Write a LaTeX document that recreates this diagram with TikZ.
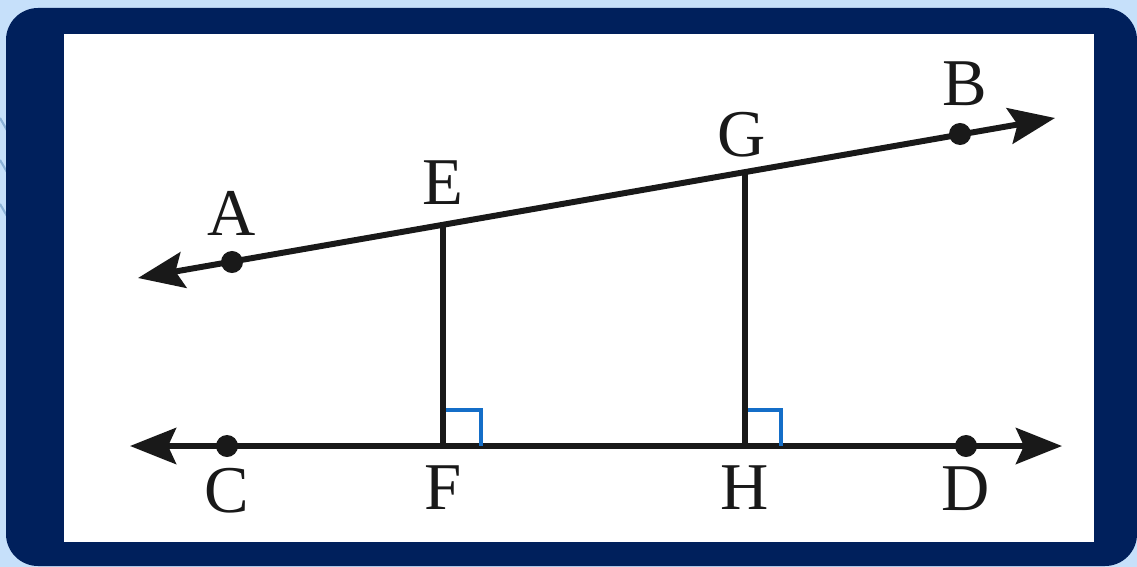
\documentclass[tikz,border=0pt]{standalone}
\usepackage{fontspec}
\setmainfont{Liberation Serif}
\usepackage{xcolor}
\usetikzlibrary{arrows.meta,positioning}
\definecolor{bgblue}{RGB}{198,224,250}
\definecolor{navy}{RGB}{0,32,92}
\definecolor{markblue}{RGB}{20,110,200}
\definecolor{faintblue}{RGB}{140,178,215}

\begin{document}
\begin{tikzpicture}[
  x=0.01cm,y=-0.01cm,
  node distance=.14cm,
  dot/.style={circle,fill=black!90,inner sep=0,minimum size=.22cm},
  lbl/.style={inner sep=0,font=\fontsize{19}{23}\selectfont,text=black!90},
  ray/.style={{Stealth[length=4.6mm,width=3.6mm,inset=.8mm]}-{Stealth[length=4.6mm,width=3.6mm,inset=.8mm]},line width=1.7pt,black!90},
  seg/.style={line width=1.6pt,black!90},
  rtmark/.style={line width=.9pt,markblue}]
% frame
\useasboundingbox (0,0) rectangle (1137,567);
\fill[bgblue] (0,0) rectangle (1137,567);
\draw[faintblue,line width=.6pt] (0,118) -- (8,132) (0,160) -- (7,172) (0,204) -- (7,216);
\fill[navy,rounded corners=.32cm] (6,8) rectangle (1137,566);
\fill[white] (64,34) rectangle (1094,542);
% points
\coordinate (ABl) at (138,278);
\coordinate (ABr) at (1055,118);
\coordinate (CDl) at (130,446);
\coordinate (CDr) at (1062,446);
\coordinate (E) at (443,225);
\coordinate (G) at (745,172);
\coordinate (F) at (443,446);
\coordinate (H) at (745,446);
% lines
\draw[ray] (ABl) -- (ABr);
\draw[ray] (CDl) -- (CDr);
\draw[seg] (E) -- (F);
\draw[seg] (G) -- (H);
\draw[rtmark] (F) ++(3,-36) -- ++(35,0) -- ++(0,36);
\draw[rtmark] (H) ++(3,-36) -- ++(33,0) -- ++(0,36);
\node[dot] (A) at (232,262) {};
\node[dot] (B) at (960,134) {};
\node[dot] (C) at (227,446) {};
\node[dot] (D) at (966,446) {};
% labels
\node[lbl,above=of A] (labA) {A};
\node[lbl,above=.16cm of B,xshift=.05cm] (labB) {B};
\node[lbl,above=.2cm of E] (labE) {E};
\node[lbl,above=.14cm of G,xshift=-.03cm] (labG) {G};
\node[lbl,below=.1cm of C] (labC) {C};
\node[lbl,below=.19cm of F] (labF) {F};
\node[lbl,below=.19cm of H] (labH) {H};
\node[lbl,below=.08cm of D] (labD) {D};
\end{tikzpicture}
\end{document}
